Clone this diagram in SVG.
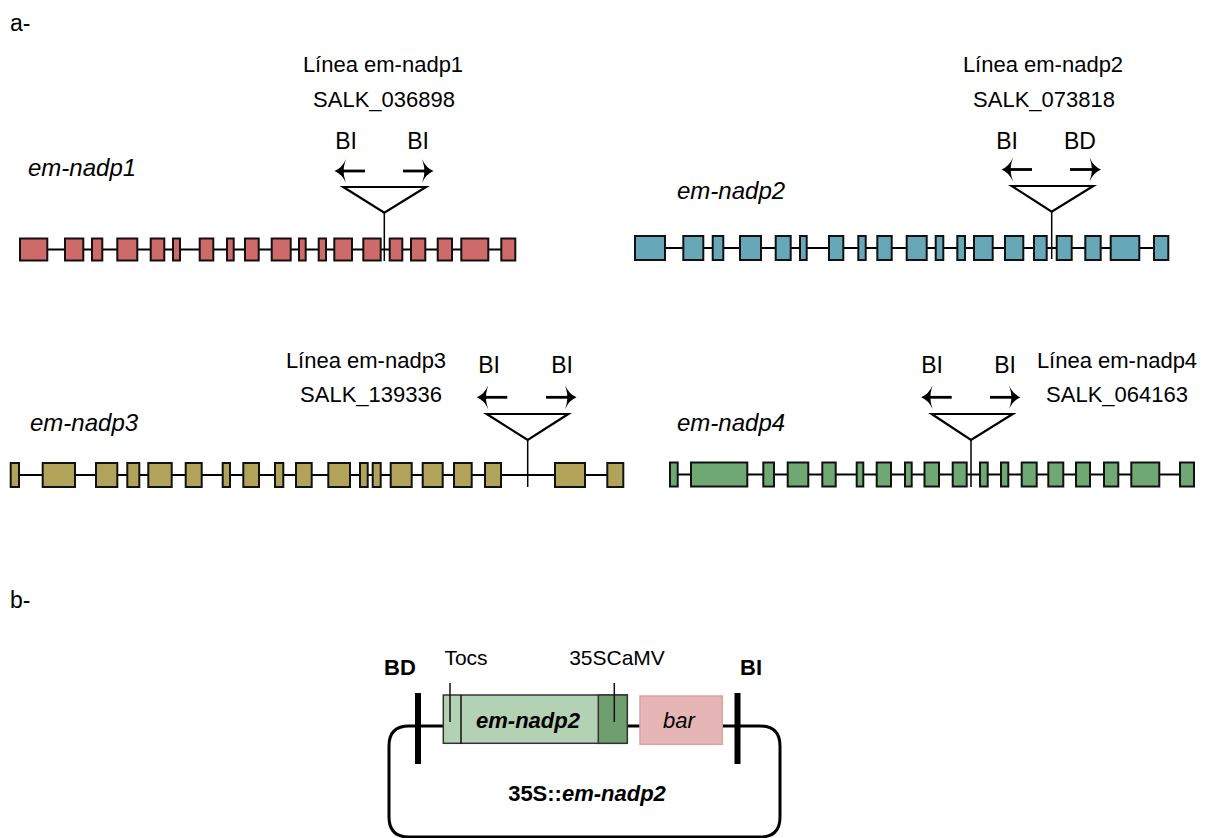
<svg xmlns="http://www.w3.org/2000/svg" width="1222" height="838" viewBox="0 0 1222 838">
<defs>
<style>
text{font-family:"Liberation Sans",Arial,sans-serif;font-size:22px;fill:#000}
.it{font-style:italic}
.gl{font-size:24px}
.mid{text-anchor:middle}
.bb{font-weight:bold}
.sm{font-size:21px}
.big{font-size:23px}
.bk{stroke:#000;stroke-width:2;fill:none}
.ins{stroke:#000;stroke-width:1.5;fill:none}
.tri{stroke:#000;stroke-width:2.2;fill:#fff;stroke-linejoin:miter}
.arr{stroke:#000;stroke-width:2.8;fill:none}
.head{fill:#000;stroke:none}
.e1 rect{fill:#cf6a6a;stroke:#111;stroke-width:2}
.e2 rect{fill:#66a7b8;stroke:#111;stroke-width:2}
.e3 rect{fill:#b1a35a;stroke:#111;stroke-width:2}
.e4 rect{fill:#70a874;stroke:#111;stroke-width:2}
</style>
<path id="ahR" d="M-10,-12 Q-6,-3 1.5,0 Q-6,3 -10,12 Q-7,3 -8,0 Q-7,-3 -10,-12 Z"/>
</defs>
<rect width="1222" height="838" fill="#fff"/>

<text class="big" x="10" y="31">a-</text>
<text class="big" x="10" y="608">b-</text>

<!-- Gene 1 -->
<g id="gene1">
<text class="it gl" x="28" y="176">em-nadp1</text>
<line class="bk" x1="20" y1="249.5" x2="515" y2="249.5"/>
<g class="e1">
<rect x="20" y="238.5" width="27.3" height="22"/>
<rect x="65" y="238.5" width="18.3" height="22"/>
<rect x="92" y="238.5" width="10.3" height="22"/>
<rect x="117.3" y="238.5" width="20" height="22"/>
<rect x="150.7" y="238.5" width="13.6" height="22"/>
<rect x="173" y="238.5" width="7" height="22"/>
<rect x="199.7" y="238.5" width="13.6" height="22"/>
<rect x="227" y="238.5" width="6.7" height="22"/>
<rect x="245" y="238.5" width="13.7" height="22"/>
<rect x="271.7" y="238.5" width="19" height="22"/>
<rect x="299" y="238.5" width="6.7" height="22"/>
<rect x="318.7" y="238.5" width="7.3" height="22"/>
<rect x="334.3" y="238.5" width="17.7" height="22"/>
<rect x="363.3" y="238.5" width="17.4" height="22"/>
<rect x="389.7" y="238.5" width="12.6" height="22"/>
<rect x="411" y="238.5" width="14.3" height="22"/>
<rect x="437.7" y="238.5" width="14.3" height="22"/>
<rect x="461.3" y="238.5" width="27" height="22"/>
<rect x="501.3" y="238.5" width="14" height="22"/>
</g>
</g>
<g id="insert1">
<text class="mid" x="383" y="72">Línea em-nadp1</text>
<text class="mid" x="384" y="107">SALK_036898</text>
<text class="mid big" x="346" y="149">BI</text>
<text class="mid big" x="418" y="149">BI</text>
<line class="ins" x1="384.3" y1="212" x2="384.3" y2="261"/>
<polygon class="tri" points="343.3,187 426,187 384.3,212.7"/>
<line class="arr" x1="338" y1="171" x2="365" y2="171"/>
<use href="#ahR" class="head" transform="translate(336,171) scale(-1,1)"/>
<line class="arr" x1="403" y1="171" x2="430" y2="171"/>
<use href="#ahR" class="head" transform="translate(432,171)"/>
</g>

<!-- Gene 2 -->
<g id="gene2">
<text class="it gl" x="677" y="199">em-nadp2</text>
<line class="bk" x1="635" y1="248" x2="1168" y2="248"/>
<g class="e2">
<rect x="635" y="236" width="30" height="24"/>
<rect x="683.3" y="236" width="20" height="24"/>
<rect x="712.7" y="236" width="10.6" height="24"/>
<rect x="740" y="236" width="21" height="24"/>
<rect x="775.7" y="236" width="15" height="24"/>
<rect x="800" y="236" width="6.7" height="24"/>
<rect x="829" y="236" width="14.3" height="24"/>
<rect x="858.3" y="236" width="7.4" height="24"/>
<rect x="877.3" y="236" width="14.4" height="24"/>
<rect x="906.7" y="236" width="20" height="24"/>
<rect x="935.7" y="236" width="7.6" height="24"/>
<rect x="957.3" y="236" width="7.7" height="24"/>
<rect x="974" y="236" width="18.7" height="24"/>
<rect x="1005" y="236" width="18.3" height="24"/>
<rect x="1034" y="236" width="12.7" height="24"/>
<rect x="1056.7" y="236" width="15" height="24"/>
<rect x="1085.3" y="236" width="15.4" height="24"/>
<rect x="1110.7" y="236" width="28.6" height="24"/>
<rect x="1154" y="236" width="14.3" height="24"/>
</g>
</g>
<g id="insert2">
<text class="mid" x="1043" y="72">Línea em-nadp2</text>
<text class="mid" x="1044" y="107">SALK_073818</text>
<text class="mid big" x="1007" y="149">BI</text>
<text class="mid big" x="1080" y="149">BD</text>
<line class="ins" x1="1051.7" y1="211" x2="1051.7" y2="259"/>
<polygon class="tri" points="1011.7,186 1093.3,186 1051.7,211.7"/>
<line class="arr" x1="1005" y1="169.5" x2="1032" y2="169.5"/>
<use href="#ahR" class="head" transform="translate(1003,169.5) scale(-1,1)"/>
<line class="arr" x1="1070" y1="169.5" x2="1097" y2="169.5"/>
<use href="#ahR" class="head" transform="translate(1099.5,169.5)"/>
</g>

<!-- Gene 3 -->
<g id="gene3">
<text class="it gl" x="30" y="431">em-nadp3</text>
<line class="bk" x1="11" y1="475" x2="623" y2="475"/>
<g class="e3">
<rect x="10.7" y="463" width="8.3" height="24"/>
<rect x="42.7" y="463" width="32.3" height="24"/>
<rect x="96" y="463" width="21.3" height="24"/>
<rect x="127.3" y="463" width="12" height="24"/>
<rect x="148.3" y="463" width="23.4" height="24"/>
<rect x="185.7" y="463" width="16" height="24"/>
<rect x="222.7" y="463" width="7.3" height="24"/>
<rect x="243.3" y="463" width="15.7" height="24"/>
<rect x="275" y="463" width="8.3" height="24"/>
<rect x="296" y="463" width="15.7" height="24"/>
<rect x="328.3" y="463" width="21.7" height="24"/>
<rect x="360" y="463" width="7.7" height="24"/>
<rect x="372.7" y="463" width="8" height="24"/>
<rect x="390.7" y="463" width="21" height="24"/>
<rect x="422.7" y="463" width="20" height="24"/>
<rect x="454" y="463" width="17.7" height="24"/>
<rect x="485" y="463" width="16" height="24"/>
<rect x="555" y="463" width="30" height="24"/>
<rect x="607.3" y="463" width="16" height="24"/>
</g>
</g>
<g id="insert3">
<text class="mid" x="366" y="368">Línea em-nadp3</text>
<text class="mid" x="371" y="402">SALK_139336</text>
<text class="mid big" x="489" y="373">BI</text>
<text class="mid big" x="562" y="373">BI</text>
<line class="ins" x1="527.7" y1="439" x2="527.7" y2="487"/>
<polygon class="tri" points="486.7,414 568.3,414 527.7,440"/>
<line class="arr" x1="480.5" y1="397.3" x2="507.3" y2="397.3"/>
<use href="#ahR" class="head" transform="translate(478.3,397.3) scale(-1,1)"/>
<line class="arr" x1="546" y1="397.3" x2="573" y2="397.3"/>
<use href="#ahR" class="head" transform="translate(575,397.3)"/>
</g>

<!-- Gene 4 -->
<g id="gene4">
<text class="it gl" x="677" y="431">em-nadp4</text>
<line class="bk" x1="670" y1="474.5" x2="1194" y2="474.5"/>
<g class="e4">
<rect x="670" y="462.5" width="7.7" height="24"/>
<rect x="691" y="462.5" width="56.3" height="24"/>
<rect x="763.3" y="462.5" width="10.7" height="24"/>
<rect x="787.7" y="462.5" width="20.6" height="24"/>
<rect x="822.3" y="462.5" width="13.4" height="24"/>
<rect x="856.7" y="462.5" width="6.6" height="24"/>
<rect x="876.7" y="462.5" width="14.3" height="24"/>
<rect x="905" y="462.5" width="6.7" height="24"/>
<rect x="924.5" y="462.5" width="14.5" height="24"/>
<rect x="952.7" y="462.5" width="14" height="24"/>
<rect x="980" y="462.5" width="7.7" height="24"/>
<rect x="1001" y="462.5" width="7.3" height="24"/>
<rect x="1021.7" y="462.5" width="15" height="24"/>
<rect x="1048.3" y="462.5" width="15" height="24"/>
<rect x="1076" y="462.5" width="14" height="24"/>
<rect x="1104" y="462.5" width="14.3" height="24"/>
<rect x="1131.3" y="462.5" width="28" height="24"/>
<rect x="1180" y="462.5" width="14" height="24"/>
</g>
</g>
<g id="insert4">
<text class="mid" x="1117" y="368">Línea em-nadp4</text>
<text class="mid" x="1117" y="402">SALK_064163</text>
<text class="mid big" x="932" y="373">BI</text>
<text class="mid big" x="1005" y="373">BI</text>
<line class="ins" x1="971" y1="439" x2="971" y2="487"/>
<polygon class="tri" points="931.7,414 1012.7,414 971,440"/>
<line class="arr" x1="925" y1="397.3" x2="951.7" y2="397.3"/>
<use href="#ahR" class="head" transform="translate(922.7,397.3) scale(-1,1)"/>
<line class="arr" x1="990" y1="397.3" x2="1017" y2="397.3"/>
<use href="#ahR" class="head" transform="translate(1019,397.3)"/>
</g>

<!-- Vector b -->
<g id="vector-loop">
<path d="M409,726 Q389,726 389,746 V817 Q389,837 409,837 H760 Q780,837 780,817 V746 Q780,726 760,726 Z" stroke="#000" stroke-width="3" fill="none"/>
</g>
<g id="border-BD">
<rect x="415" y="693" width="6" height="71" fill="#000"/>
<text class="mid bb" x="400" y="675">BD</text>
</g>
<g id="border-BI">
<rect x="734.5" y="693" width="6" height="71" fill="#000"/>
<text class="mid bb" x="751" y="675">BI</text>
</g>
<g id="em-nadp2-cassette">
<rect x="443.3" y="695" width="184" height="48.3" fill="#b3d1b3" stroke="#333" stroke-width="1.5"/>
<rect x="598.3" y="695" width="29" height="48.3" fill="#6f9f70" stroke="#333" stroke-width="1.5"/>
<line x1="461" y1="695" x2="461" y2="744" stroke="#111" stroke-width="1.5"/>
<text class="mid bb it" x="528" y="728">em-nadp2</text>
</g>
<g id="Tocs">
<line x1="450" y1="683" x2="450" y2="722" stroke="#111" stroke-width="1.5"/>
<text class="mid sm" x="466" y="665">Tocs</text>
</g>
<g id="p35SCaMV">
<line x1="614.3" y1="683" x2="614.3" y2="722" stroke="#111" stroke-width="1.5"/>
<text class="mid sm" x="617" y="665">35SCaMV</text>
</g>
<g id="bar">
<rect x="640" y="696" width="82.3" height="48.3" fill="#e6b5b5" stroke="#d9a3a3" stroke-width="1.5"/>
<text class="mid it" x="679" y="728">bar</text>
</g>
<text class="mid bb" x="587" y="801">35S::<tspan class="it">em-nadp2</tspan></text>
</svg>
